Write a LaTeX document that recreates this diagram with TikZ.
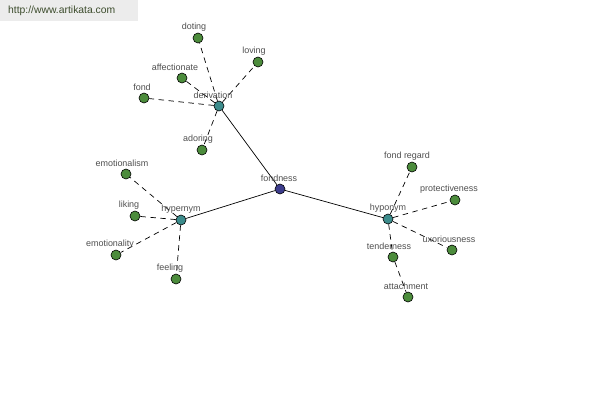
\documentclass[tikz,border=0pt]{standalone}
\usepackage{fontspec}
\setmainfont{Liberation Sans}
\usetikzlibrary{positioning}
\definecolor{leafc}{RGB}{76,140,60}
\definecolor{hubc}{RGB}{60,140,140}
\definecolor{rootc}{RGB}{60,60,140}
\definecolor{markc}{RGB}{236,236,236}
\definecolor{marktxt}{RGB}{60,76,44}
\definecolor{lblc}{RGB}{80,80,80}

\begin{document}
\begin{tikzpicture}[x=1bp, y=-1bp,
    dot/.style={circle, draw=black, line width=0.6pt, minimum size=10bp, inner sep=0pt},
    leaf/.style={dot, fill=leafc},
    hub/.style={dot, fill=hubc},
    root/.style={dot, fill=rootc},
    lbl/.style={font=\fontsize{9}{10}\selectfont, text=lblc, inner sep=0.5pt},
    link/.style={black, line width=0.7pt},
    rel/.style={black, dash pattern=on 5.5bp off 4.5bp, line width=0.7pt}]
  \useasboundingbox[fill=white] (0,0) rectangle (600,400);
  \node[fill=markc, anchor=north west, text width=122bp, inner xsep=8bp,
    minimum height=21bp, text=marktxt, font=\fontsize{10.4}{12}\selectfont] (mark) at (0,0)
    {http://www.artikata.com};
  % centre and the three hubs
  \node[root] (fondness) at (280,189) {};
  \node[hub] (derivation) at (219,106) {};
  \node[hub] (hypernym) at (181,220) {};
  \node[hub] (hyponym) at (388,219) {};
  % leaves
  \foreach \n/\x/\y in {doting/198/38, loving/258/62, affectionate/182/78, fond/144/98,
      adoring/202/150, emotionalism/126/174, liking/135/216, emotionality/116/255,
      feeling/176/279, fondregard/412/167, protectiveness/455/200,
      uxoriousness/452/250, tenderness/393/257, attachment/408/297}
    \node[leaf] (\n) at (\x,\y) {};
  % edges
  \foreach \a in {derivation, hypernym, hyponym} \draw[link] (fondness) -- (\a);
  \foreach \a/\b in {derivation/doting, derivation/loving, derivation/affectionate,
      derivation/fond, derivation/adoring, hypernym/emotionalism, hypernym/liking,
      hypernym/emotionality, hypernym/feeling, hyponym/fondregard,
      hyponym/protectiveness, hyponym/uxoriousness, hyponym/tenderness,
      tenderness/attachment}
    \draw[rel] (\a) -- (\b);
  % labels
  \foreach \n/\dx/\t in {fondness/-1/fondness, derivation/-6/derivation, hypernym/0/hypernym,
      hyponym/0/hyponym, doting/-4/doting, loving/-4/loving, affectionate/-7/affectionate,
      fond/-2/fond, adoring/-4/adoring, emotionalism/-4/emotionalism, liking/-6/liking,
      emotionality/-6/emotionality, feeling/-6/feeling, fondregard/-5/fond regard,
      protectiveness/-6/protectiveness, uxoriousness/-3/uxoriousness,
      tenderness/-4/tenderness, attachment/-2/attachment}
    \node[lbl, above=1bp of \n, xshift=\dx bp] (\n-l) {\t};
\end{tikzpicture}
\end{document}
